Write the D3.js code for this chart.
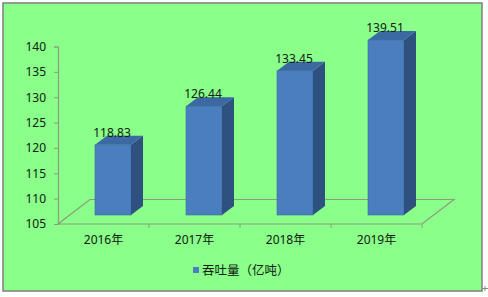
<!DOCTYPE html>
<html>
<head>
<meta charset="utf-8">
<script src="https://cdn.jsdelivr.net/npm/d3@7"></script>
<style>
  body { margin: 0; background: #fff; }
  text { font-family: "Noto Sans", "Noto Sans CJK SC", sans-serif; }
</style>
</head>
<body>
<div class="draw-section"></div>
<script>
const categories = ['2016年', '2017年', '2018年', '2019年'];
const values = [118.83, 126.44, 133.45, 139.51];
const yTicks = [105, 110, 115, 120, 125, 130, 135, 140];
const seriesName = '吞吐量（亿吨）';

const W = 488, H = 297;
const plot = { left: 58, right: 422, top: 46.5, bottom: 224 };
// 3d offsets
const floorDepth = { dx: 32, dy: -24.5 };
const barShift = { dx: 9.5, dy: -9 };
const barDepth = { dx: 12, dy: -9 };
const barWidth = 36;

const colors = {
  bg: '#8aff8a',
  frame: '#7f7f7f',
  axis: '#8c9c80',
  front: '#4a7ebf',
  side: '#2f5180',
  top: '#3d69a3',
  text: '#102010'
};

const svg = d3.select('.draw-section')
  .append('svg')
  .attr('width', W)
  .attr('height', H);

svg.append('rect')
  .attr('x', 3).attr('y', 3)
  .attr('width', 479).attr('height', 288)
  .attr('fill', colors.bg)
  .attr('stroke', colors.frame)
  .attr('stroke-width', 1.5);

// small mark in the corner
svg.append('path')
  .attr('d', 'M482,288.5h6M485,286v5')
  .attr('stroke', '#888')
  .attr('stroke-width', 1);

const x = d3.scaleBand()
  .domain(categories)
  .range([plot.left, plot.right]);

const y = d3.scaleLinear()
  .domain([105, 140])
  .range([plot.bottom, plot.top]);

// floor
const y0 = y(105);
const floor = [
  [plot.left, y0],
  [plot.right, y0],
  [plot.right + floorDepth.dx, y0 + floorDepth.dy],
  [plot.left + floorDepth.dx, y0 + floorDepth.dy]
];
svg.append('path')
  .attr('d', d3.line()(floor) + 'Z')
  .attr('fill', 'none')
  .attr('stroke', colors.axis)
  .attr('stroke-width', 1.2);

// y axis
const yAxis = svg.append('g')
  .attr('transform', `translate(${plot.left},0)`)
  .call(d3.axisLeft(y).tickValues(yTicks).tickSize(4).tickPadding(8));
yAxis.select('.domain').attr('stroke', colors.axis).attr('stroke-width', 1.2);
yAxis.selectAll('.tick line').attr('stroke', colors.axis);
yAxis.selectAll('.tick text')
  .attr('fill', colors.text)
  .style('font-size', '12px')
  .style('font-family', '"Noto Sans", sans-serif');

// x axis ticks + labels
const xAxis = svg.append('g')
  .attr('transform', `translate(0,${y0})`)
  .call(d3.axisBottom(x).tickSize(0).tickPadding(11));
xAxis.select('.domain').remove();
xAxis.selectAll('.tick text')
  .attr('fill', colors.text)
  .style('font-size', '12px')
  .style('font-family', '"Noto Sans", "Noto Sans CJK SC", sans-serif');
xAxis.selectAll('.sep')
  .data(categories)
  .enter()
  .append('line')
  .attr('x1', d => x(d) + x.bandwidth())
  .attr('x2', d => x(d) + x.bandwidth())
  .attr('y1', 0)
  .attr('y2', 4)
  .attr('stroke', colors.axis);

// bars
const bars = svg.append('g')
  .selectAll('g')
  .data(values)
  .enter()
  .append('g');

const bx = (d, i) => x(categories[i]) + x.bandwidth() / 2 + barShift.dx - barWidth / 2;
const by = d => y(d) + barShift.dy;
const bb = y0 + barShift.dy;

bars.append('rect')
  .attr('x', bx)
  .attr('y', by)
  .attr('width', barWidth)
  .attr('height', d => bb - by(d))
  .attr('fill', colors.front)
  .attr('stroke', '#3e6aa0')
  .attr('stroke-width', 0.6);

bars.append('path')
  .attr('d', (d, i) => {
    const x1 = bx(d, i) + barWidth;
    return d3.line()([
      [x1, by(d)],
      [x1 + barDepth.dx, by(d) + barDepth.dy],
      [x1 + barDepth.dx, bb + barDepth.dy],
      [x1, bb]
    ]) + 'Z';
  })
  .attr('fill', colors.side);

bars.append('path')
  .attr('d', (d, i) => {
    const x0 = bx(d, i);
    return d3.line()([
      [x0, by(d)],
      [x0 + barWidth, by(d)],
      [x0 + barWidth + barDepth.dx, by(d) + barDepth.dy],
      [x0 + barDepth.dx, by(d) + barDepth.dy]
    ]) + 'Z';
  })
  .attr('fill', colors.top);

// value labels
bars.append('text')
  .attr('x', (d, i) => bx(d, i) + barWidth / 2 - 1)
  .attr('y', d => by(d) + barDepth.dy + 1)
  .attr('text-anchor', 'middle')
  .attr('fill', colors.text)
  .style('font-size', '12px')
  .text(d => d.toFixed(2));

// legend
const legend = svg.append('g').attr('transform', 'translate(193,267)');
legend.append('rect')
  .attr('width', 6).attr('height', 6)
  .attr('fill', colors.front);
legend.append('text')
  .attr('x', 9)
  .attr('y', 7.5)
  .attr('fill', colors.text)
  .style('font-size', '12.5px')
  .style('font-family', '"Noto Sans CJK SC", sans-serif')
  .text(seriesName);
</script>
</body>
</html>
